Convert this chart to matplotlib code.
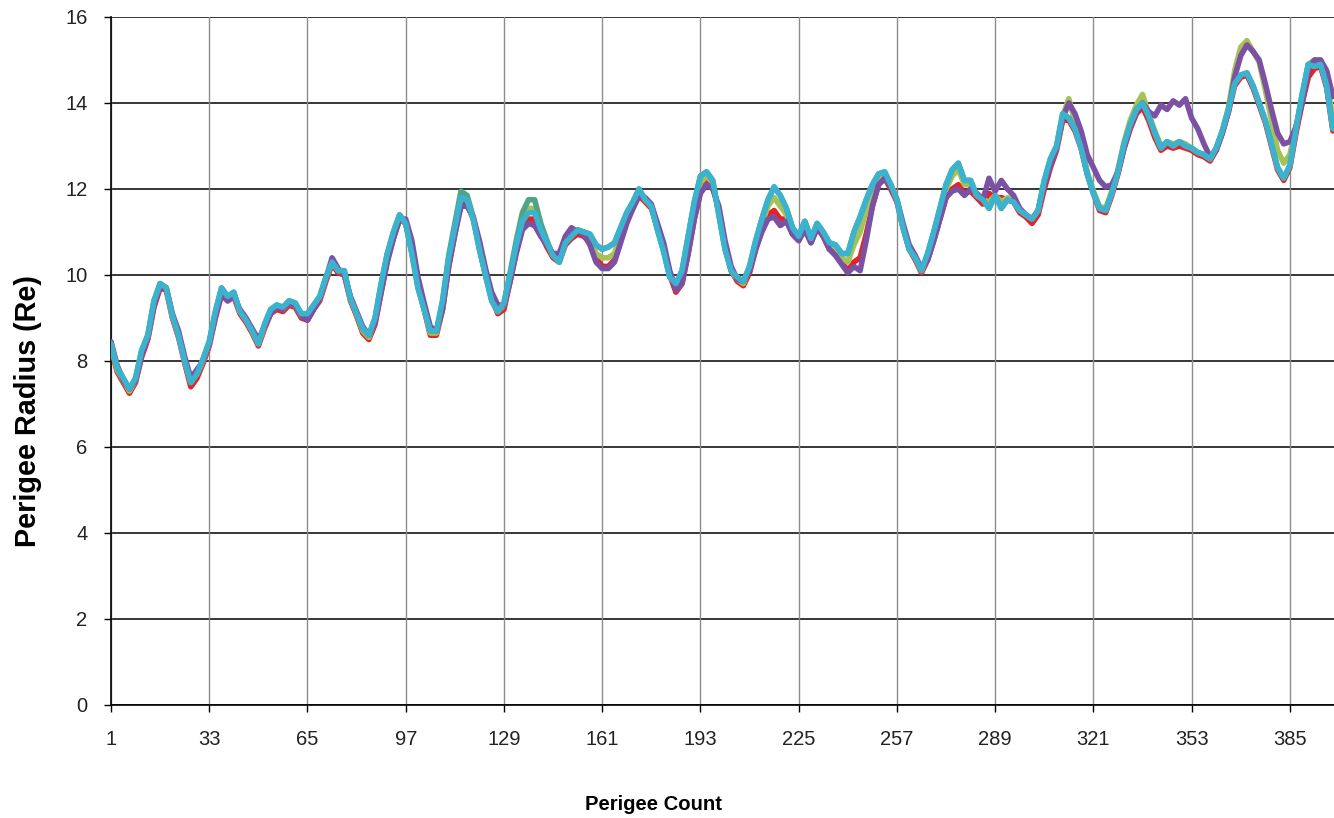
import matplotlib
matplotlib.use("Agg")
import matplotlib.pyplot as plt

plt.rcParams['font.family'] = ['Liberation Sans', 'DejaVu Sans']

counts = list(range(1, 400, 2))

cyan_vals = [
    8.4, 7.85, 7.6, 7.35, 7.6, 8.25, 8.6, 9.4, 9.8, 9.7,
    9.05, 8.6, 8.0, 7.5, 7.7, 8.05, 8.45, 9.15, 9.7, 9.5,
    9.6, 9.15, 8.95, 8.7, 8.4, 8.85, 9.2, 9.3, 9.25, 9.4,
    9.35, 9.1, 9.1, 9.3, 9.5, 9.95, 10.3, 10.1, 10.1, 9.45,
    9.1, 8.75, 8.6, 9.0, 9.8, 10.5, 11.0, 11.4, 11.2, 10.5,
    9.7, 9.2, 8.7, 8.7, 9.4, 10.4, 11.1, 11.8, 11.75, 11.3,
    10.6, 10.0, 9.4, 9.15, 9.35, 10.0, 10.7, 11.25, 11.45, 11.45,
    11.05, 10.75, 10.45, 10.3, 10.75, 10.9, 11.05, 11.0, 10.95, 10.7,
    10.6, 10.65, 10.75, 11.1, 11.45, 11.7, 12.0, 11.75, 11.6, 11.05,
    10.55, 9.95, 9.8, 10.1, 10.9, 11.7, 12.3, 12.4, 12.2, 11.4,
    10.6, 10.1, 9.95, 9.85, 10.2, 10.8, 11.3, 11.75, 12.05, 11.85,
    11.55, 11.1, 10.9, 11.25, 10.85, 11.2, 11.0, 10.75, 10.7, 10.5,
    10.5, 11.0, 11.35, 11.75, 12.1, 12.35, 12.4, 12.1, 11.75, 11.1,
    10.6, 10.4, 10.1, 10.5, 11.0, 11.55, 12.1, 12.45, 12.6, 12.2,
    12.2, 11.85, 11.75, 11.55, 11.85, 11.55, 11.75, 11.7, 11.5, 11.4,
    11.3, 11.5, 12.2, 12.7, 13.0, 13.75, 13.65, 13.4, 12.95, 12.35,
    11.9, 11.55, 11.5, 11.9, 12.4, 13.05, 13.5, 13.85, 14.0, 13.7,
    13.3, 12.95, 13.1, 13.0, 13.1, 13.0, 12.95, 12.85, 12.8, 12.7,
    12.95, 13.35, 13.85, 14.45, 14.65, 14.7, 14.4, 14.0, 13.6, 13.05,
    12.5, 12.25, 12.55, 13.4, 14.2, 14.9, 14.85, 14.9, 14.4, 13.4,
]

purple_vals = [
    8.45, 7.9, 7.55, 7.35, 7.55, 8.15, 8.55, 9.3, 9.75, 9.7,
    9.1, 8.7, 8.1, 7.6, 7.8, 8.0, 8.4, 9.05, 9.55, 9.4,
    9.5, 9.2, 9.0, 8.75, 8.5, 8.8, 9.1, 9.25, 9.2, 9.35,
    9.3, 9.05, 8.95, 9.2, 9.45, 9.9, 10.4, 10.15, 10.0, 9.5,
    9.15, 8.8, 8.6, 8.9, 9.6, 10.3, 10.85, 11.3, 11.3, 10.8,
    9.95, 9.35, 8.8, 8.7, 9.2, 10.2, 10.95, 11.6, 11.6, 11.35,
    10.8, 10.15, 9.6, 9.3, 9.3, 9.85, 10.5, 11.05, 11.2, 11.15,
    10.9, 10.7, 10.5, 10.5, 10.9, 11.1, 11.0, 10.95, 10.7, 10.3,
    10.15, 10.15, 10.3, 10.75, 11.2, 11.55, 11.85, 11.8, 11.65, 11.2,
    10.75, 10.1, 9.65, 9.8, 10.5, 11.3, 11.9, 12.1, 12.0, 11.6,
    10.8, 10.2, 9.9, 9.85, 10.1, 10.6, 11.0, 11.3, 11.35, 11.15,
    11.25, 10.95, 10.8, 11.05, 10.75, 11.1, 10.9, 10.6, 10.45, 10.25,
    10.05, 10.2, 10.1, 10.8, 11.6, 12.1, 12.25, 12.05, 11.75, 11.2,
    10.7, 10.45, 10.15, 10.35, 10.8, 11.3, 11.8, 11.95, 12.0, 11.85,
    12.0, 11.9, 11.75, 12.25, 11.95, 12.2, 12.0, 11.85, 11.55, 11.4,
    11.3, 11.5, 12.1, 12.55, 12.95, 13.65, 14.0, 13.75, 13.35, 12.8,
    12.5, 12.2, 12.05, 12.1, 12.4, 12.95, 13.45, 13.8, 14.0, 13.8,
    13.7, 13.95, 13.85, 14.05, 13.95, 14.1, 13.65, 13.4, 13.05, 12.75,
    12.9, 13.3, 13.8, 14.6, 15.1, 15.35, 15.2, 15.0, 14.45, 13.85,
    13.3, 13.05, 13.1, 13.45, 14.0, 14.8, 15.0, 15.0, 14.75, 14.15,
]

red_vals = [
    8.3, 7.75, 7.5, 7.25, 7.5, 8.1, 8.5, 9.25, 9.7, 9.65,
    9.0, 8.55, 7.95, 7.4, 7.6, 7.95, 8.35, 9.0, 9.55, 9.4,
    9.5, 9.1, 8.9, 8.65, 8.35, 8.75, 9.1, 9.2, 9.15, 9.3,
    9.25, 9.0, 8.95, 9.2, 9.4, 9.85, 10.25, 10.05, 10.0, 9.4,
    9.05, 8.65, 8.5, 8.85, 9.6, 10.35, 10.85, 11.3, 11.2, 10.6,
    9.8, 9.2, 8.6, 8.6, 9.2, 10.2, 10.95, 11.65, 11.65, 11.3,
    10.65, 10.0, 9.45, 9.1, 9.2, 9.85, 10.55, 11.1, 11.3, 11.3,
    10.95, 10.65, 10.4, 10.3, 10.7, 10.85, 10.95, 10.9, 10.75, 10.4,
    10.2, 10.2, 10.35, 10.8, 11.25, 11.55, 11.85, 11.7, 11.55, 11.1,
    10.6, 10.0, 9.6, 9.8, 10.5, 11.3, 11.95, 12.15, 12.05, 11.5,
    10.7, 10.1, 9.85, 9.75, 10.05, 10.6, 11.05, 11.4, 11.5, 11.3,
    11.3, 10.95, 10.8, 11.1, 10.75, 11.1, 10.9, 10.6, 10.5, 10.3,
    10.1, 10.3, 10.4, 10.95, 11.6, 12.1, 12.25, 12.0, 11.7, 11.1,
    10.6, 10.35, 10.05, 10.35, 10.8, 11.3, 11.8, 12.0, 12.1, 11.9,
    11.95, 11.8, 11.65, 11.9, 11.8, 11.8, 11.75, 11.7, 11.45, 11.35,
    11.2, 11.4, 12.0, 12.5, 12.9, 13.6, 13.6, 13.35, 12.95, 12.35,
    11.9, 11.5, 11.45, 11.85, 12.35, 12.95, 13.4, 13.75, 13.9, 13.6,
    13.2, 12.9, 13.0, 12.95, 13.0, 12.95, 12.9, 12.8, 12.75, 12.65,
    12.9, 13.3, 13.8, 14.4, 14.6, 14.65, 14.35, 13.95, 13.55, 13.0,
    12.45, 12.2, 12.5, 13.3, 14.0, 14.6, 14.8, 14.85, 14.35, 13.35,
]

olive_vals = [
    8.35, 7.8, 7.55, 7.3, 7.55, 8.2, 8.55, 9.35, 9.8, 9.7,
    9.05, 8.6, 8.0, 7.5, 7.7, 8.0, 8.4, 9.1, 9.65, 9.45,
    9.55, 9.15, 8.95, 8.7, 8.4, 8.8, 9.15, 9.3, 9.2, 9.35,
    9.3, 9.05, 9.05, 9.25, 9.45, 9.9, 10.3, 10.1, 10.05, 9.45,
    9.1, 8.7, 8.55, 8.95, 9.7, 10.45, 10.95, 11.35, 11.2, 10.55,
    9.75, 9.2, 8.65, 8.65, 9.3, 10.3, 11.05, 11.8, 11.75, 11.3,
    10.6, 10.0, 9.45, 9.15, 9.3, 9.95, 10.65, 11.3, 11.55, 11.55,
    11.05, 10.75, 10.45, 10.35, 10.8, 10.95, 11.05, 11.0, 10.85, 10.5,
    10.4, 10.4, 10.5, 10.95, 11.35, 11.65, 11.95, 11.75, 11.6, 11.1,
    10.6, 10.0, 9.75, 9.95, 10.7, 11.5, 12.15, 12.3, 12.15, 11.45,
    10.65, 10.1, 9.9, 9.8, 10.15, 10.7, 11.2, 11.6, 11.8, 11.6,
    11.4, 11.05, 10.85, 11.2, 10.8, 11.15, 10.95, 10.7, 10.65, 10.4,
    10.3, 10.7, 11.0, 11.5, 12.0, 12.3, 12.35, 12.1, 11.75, 11.1,
    10.6, 10.4, 10.1, 10.45, 10.95, 11.45, 12.0, 12.3, 12.45, 12.1,
    12.1, 11.85, 11.75, 11.7, 11.85, 11.7, 11.8, 11.75, 11.5, 11.4,
    11.3, 11.5, 12.15, 12.65, 12.95, 13.7, 14.1, 13.55, 13.05, 12.4,
    11.95, 11.6, 11.55, 11.95, 12.45, 13.1, 13.6, 13.95, 14.2, 13.75,
    13.35, 13.0, 13.1, 13.05, 13.1, 13.05, 12.95, 12.85, 12.8, 12.7,
    12.95, 13.35, 13.9, 14.75, 15.3, 15.45, 15.2, 14.95, 14.3, 13.6,
    12.9, 12.6, 12.8, 13.45, 14.15, 14.9, 15.0, 15.0, 14.6, 13.6,
]

green_vals = [
    8.4, 7.85, 7.6, 7.35, 7.6, 8.25, 8.6, 9.4, 9.8, 9.7,
    9.05, 8.6, 8.0, 7.5, 7.7, 8.05, 8.45, 9.15, 9.7, 9.5,
    9.6, 9.15, 8.95, 8.7, 8.4, 8.85, 9.2, 9.3, 9.25, 9.4,
    9.35, 9.1, 9.1, 9.3, 9.5, 9.95, 10.3, 10.1, 10.1, 9.45,
    9.1, 8.75, 8.6, 9.0, 9.8, 10.5, 11.0, 11.4, 11.2, 10.5,
    9.7, 9.2, 8.7, 8.7, 9.4, 10.45, 11.2, 11.95, 11.85, 11.35,
    10.6, 10.0, 9.4, 9.15, 9.35, 10.05, 10.8, 11.45, 11.75, 11.75,
    11.2, 10.8, 10.45, 10.3, 10.75, 10.9, 11.05, 11.0, 10.95, 10.7,
    10.6, 10.65, 10.75, 11.1, 11.45, 11.7, 12.0, 11.75, 11.6, 11.05,
    10.55, 9.95, 9.8, 10.1, 10.9, 11.7, 12.3, 12.4, 12.2, 11.4,
    10.6, 10.1, 9.95, 9.85, 10.2, 10.8, 11.3, 11.75, 12.05, 11.85,
    11.55, 11.1, 10.9, 11.25, 10.85, 11.2, 11.0, 10.75, 10.7, 10.5,
    10.5, 11.0, 11.35, 11.75, 12.1, 12.35, 12.4, 12.1, 11.75, 11.1,
    10.6, 10.4, 10.1, 10.5, 11.0, 11.55, 12.1, 12.45, 12.6, 12.2,
    12.2, 11.85, 11.75, 11.55, 11.85, 11.55, 11.75, 11.7, 11.5, 11.4,
    11.3, 11.5, 12.2, 12.7, 13.0, 13.75, 13.65, 13.4, 12.95, 12.35,
    11.9, 11.55, 11.5, 11.9, 12.4, 13.05, 13.5, 13.85, 14.0, 13.7,
    13.3, 12.95, 13.1, 13.0, 13.1, 13.0, 12.95, 12.85, 12.8, 12.7,
    12.95, 13.35, 13.85, 14.45, 14.65, 14.7, 14.4, 14.0, 13.6, 13.05,
    12.5, 12.25, 12.55, 13.4, 14.2, 14.9, 14.85, 14.9, 14.4, 13.4,
]

series = [
    ("red", red_vals, "#E52228"),
    ("olive", olive_vals, "#A6C257"),
    ("green", green_vals, "#4FA488"),
    ("purple", purple_vals, "#7B52A3"),
    ("cyan", cyan_vals, "#3BB3CF"),
]

x_ticks = [1, 33, 65, 97, 129, 161, 193, 225, 257, 289, 321, 353, 385]
y_ticks = [0, 2, 4, 6, 8, 10, 12, 14, 16]

W, H = 1334, 818
fig = plt.figure(figsize=(W / 100, H / 100), dpi=100)
ax = fig.add_axes([111 / W, (H - 705) / H, (W - 111) / W, (705 - 17) / H])

for name, vals, col in series:
    ax.plot(counts, vals, color=col, lw=4.0, solid_joinstyle='round',
            solid_capstyle='round', zorder=3)

ax.set_xlim(1, 1 + (W - 111) / 3.07)
ax.set_ylim(0, 16)
ax.set_xticks(x_ticks)
ax.set_yticks(y_ticks)
ax.set_xticklabels([str(t) for t in x_ticks])
ax.set_yticklabels([str(t) for t in y_ticks])

for y in y_ticks:
    ax.axhline(y, color='black', lw=1.1, zorder=1)
for x in x_ticks:
    ax.axvline(x, color='#8c8c8c', lw=1.0, zorder=1)

for s in ['top', 'right']:
    ax.spines[s].set_visible(False)
for s in ['left', 'bottom']:
    ax.spines[s].set_color('black')
    ax.spines[s].set_linewidth(1.2)

ax.tick_params(axis='x', direction='out', length=5, width=1, colors='black',
               labelsize=14.5, labelcolor='#222222', pad=13)
ax.tick_params(axis='y', direction='out', length=5, width=1, colors='black',
               labelsize=14.5, labelcolor='#222222', pad=12)

fig.text(28 / W, 1 - 411 / H, "Perigee Radius (Re)", rotation=90, fontsize=20.8,
         fontweight='bold', ha='center', va='center', color='black')
fig.text(653.5 / W, 1 - 805 / H, "Perigee Count", fontsize=14.6,
         fontweight='bold', ha='center', va='center', color='black')

fig.savefig("out.png", dpi=100)
